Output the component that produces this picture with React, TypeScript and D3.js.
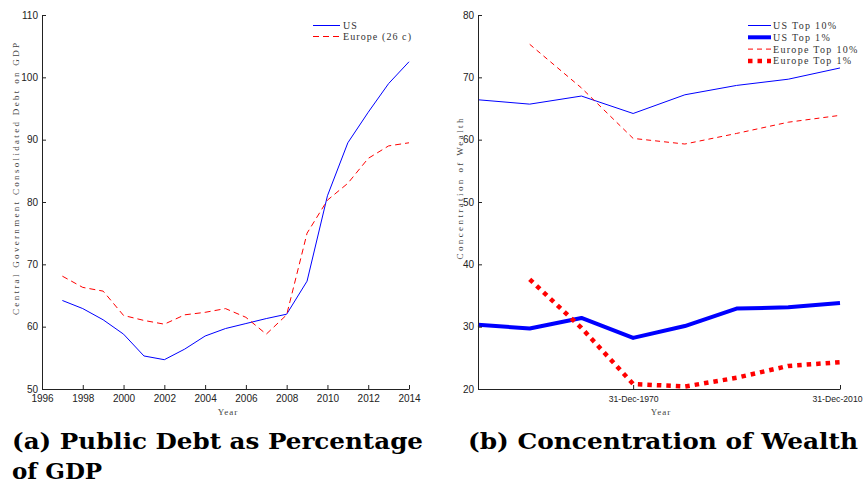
import { useRef, useEffect } from 'react';
import * as d3 from 'd3';

// (a) public debt, % of GDP
const debtYears = [1997, 1998, 1999, 2000, 2001, 2002, 2003, 2004, 2005, 2006, 2007, 2008, 2009, 2010, 2011, 2012, 2013, 2014];
const debtUS = [64.2, 62.9, 61.1, 58.8, 55.3, 54.7, 56.4, 58.5, 59.7, 60.5, 61.3, 62.0, 67.3, 81.0, 89.5, 94.4, 99.0, 102.5];
const debtEurope = [68.1, 66.3, 65.7, 61.8, 61.0, 60.4, 61.9, 62.3, 62.9, 61.5, 58.8, 61.9, 75.0, 80.3, 83.0, 87.0, 89.0, 89.5];
const debtXTicks = [1996, 1998, 2000, 2002, 2004, 2006, 2008, 2010, 2012, 2014];
const debtYTicks = [50, 60, 70, 80, 90, 100, 110];

// (b) concentration of wealth, one point per decade
const wealthYears = [1940, 1950, 1960, 1970, 1980, 1990, 2000, 2010];
const usTop10 = [66.4, 65.7, 67.0, 64.2, 67.2, 68.7, 69.7, 71.5];
const usTop1 = [30.3, 29.7, 31.4, 28.2, 30.1, 32.9, 33.1, 33.8];
const euTop10 = [null, 75.3, 68.3, 60.2, 59.3, 61.0, 62.8, 63.9];
const euTop1 = [null, 37.6, 29.8, 20.8, 20.4, 21.8, 23.7, 24.3];
const wealthXTicks = [1970, 2010];
const wealthYTicks = [20, 30, 40, 50, 60, 70, 80];

const sans = '"Liberation Sans", Arial, sans-serif';
const serif = '"Liberation Serif", "Times New Roman", serif';
const capFont = '"DejaVu Serif", serif';

const top = 15;
const bottom = 389;

const dec31 = (y: number) => new Date(y, 11, 31);

export default function App() {
    const axA = useRef<SVGGElement | null>(null);
    const ayA = useRef<SVGGElement | null>(null);
    const axB = useRef<SVGGElement | null>(null);
    const ayB = useRef<SVGGElement | null>(null);

    const xA = d3.scaleLinear().domain([1996, 2014]).range([42, 409]);
    const yA = d3.scaleLinear().domain([50, 110]).range([bottom, top]);
    const xB = d3.scaleTime().domain([dec31(1940), dec31(2010)]).range([478, 840]);
    const yB = d3.scaleLinear().domain([20, 80]).range([bottom, top]);

    useEffect(() => {
        const style = (g: d3.Selection<SVGGElement, unknown, null, undefined>) => {
            g.selectAll('text').attr('font-family', sans).attr('font-size', 10).attr('fill', '#222');
            g.selectAll('line').attr('stroke', '#222');
            g.select('.domain').attr('stroke', '#222');
        };

        d3.select(axA.current)
            .call(d3.axisBottom(xA).tickValues(debtXTicks).tickFormat(d3.format('d')).tickSizeInner(-4).tickSizeOuter(0).tickPadding(6))
            .call(style);
        d3.select(ayA.current)
            .call(d3.axisLeft(yA).tickValues(debtYTicks).tickSizeInner(-4).tickSizeOuter(0).tickPadding(4))
            .call(style);
        d3.select(axB.current)
            .call(d3.axisBottom(xB).tickValues(wealthXTicks.map(dec31)).tickFormat(d3.timeFormat('%d-%b-%Y') as any).tickSizeInner(-4).tickSizeOuter(0).tickPadding(6))
            .call(style);
        // date labels are squeezed a bit so the last one stays inside the page
        d3.select(axB.current).selectAll<SVGTextElement, Date>('text')
            .attr('font-size', 9.5)
            .attr('textLength', 50)
            .attr('lengthAdjust', 'spacingAndGlyphs')
            .attr('dx', (_, i, n) => (i === n.length - 1 ? -3 : 0));
        d3.select(ayB.current)
            .call(d3.axisLeft(yB).tickValues(wealthYTicks).tickSizeInner(-4).tickSizeOuter(0).tickPadding(4))
            .call(style);
    }, []);

    const lineA = (vals: number[]) =>
        d3.line<number>().x((_, i) => xA(debtYears[i])).y(d => yA(d))(vals) as string;

    const lineB = (vals: (number | null)[]) =>
        d3.line<number | null>()
            .defined(d => d !== null)
            .x((_, i) => xB(dec31(wealthYears[i])))
            .y(d => yB(d as number))(vals) as string;

    const wealthSeries = [
        { name: 'US Top 10%', vals: usTop10, color: '#0000ff', width: 1, dash: '' },
        { name: 'US Top 1%', vals: usTop1, color: '#0000ff', width: 4, dash: '' },
        { name: 'Europe Top 10%', vals: euTop10, color: '#ff0000', width: 1, dash: '5,4' },
        { name: 'Europe Top 1%', vals: euTop1, color: '#ff0000', width: 4.5, dash: '4.5,5' },
    ];

    return (
        <svg width={867} height={483} style={{ position: 'absolute', left: 0, top: 0, background: '#fff' }}>
            {/* panel (a) */}
            <path d={lineA(debtUS)} fill="none" stroke="#0000ff" strokeWidth={1} />
            <path d={lineA(debtEurope)} fill="none" stroke="#ff0000" strokeWidth={1} strokeDasharray="6,4" />
            <g ref={axA} transform={`translate(0,${bottom})`} />
            <g ref={ayA} transform={`translate(42,0)`} />
            <text x={228} y={415} textAnchor="middle" fontFamily={serif} fontSize={9} letterSpacing={1} fill="#444">Year</text>
            <text transform="translate(19,179) rotate(-90)" textAnchor="middle" fontFamily={serif} fontSize={9} fill="#444"
                textLength={272} lengthAdjust="spacing">Central Government Consolidated Debt on GDP</text>

            <line x1={313} x2={340} y1={25.5} y2={25.5} stroke="#0000ff" strokeWidth={1} />
            <text x={343} y={29} fontFamily={serif} fontSize={10} letterSpacing={1} fill="#333">US</text>
            <line x1={313} x2={340} y1={36.5} y2={36.5} stroke="#ff0000" strokeWidth={1} strokeDasharray="6,4" />
            <text x={343} y={40} fontFamily={serif} fontSize={10} textLength={68} lengthAdjust="spacing" fill="#333">Europe (26 c)</text>

            {/* panel (b) */}
            {wealthSeries.map(s => (
                <path key={s.name} d={lineB(s.vals)} fill="none" stroke={s.color} strokeWidth={s.width}
                    strokeDasharray={s.dash || undefined} strokeLinejoin="round" />
            ))}
            <g ref={axB} transform={`translate(0,${bottom})`} />
            <g ref={ayB} transform={`translate(478,0)`} />
            <text x={661} y={415} textAnchor="middle" fontFamily={serif} fontSize={9} letterSpacing={1} fill="#444">Year</text>
            <text transform="translate(463,189) rotate(-90)" textAnchor="middle" fontFamily={serif} fontSize={9} fill="#444"
                textLength={141} lengthAdjust="spacing">Concentration of Wealth</text>

            {wealthSeries.map((s, i) => (
                <g key={s.name} transform={`translate(0,${25.5 + i * 11.8})`}>
                    <line x1={748} x2={771} y1={0} y2={0} stroke={s.color} strokeWidth={s.width}
                        strokeDasharray={s.dash || undefined} />
                    <text x={773} y={3.5} fontFamily={serif} fontSize={10} letterSpacing={1.3} fill="#333">{s.name}</text>
                </g>
            ))}

            {/* captions */}
            <text x={12} y={449} fontFamily={capFont} fontWeight="bold" fontSize={23} textLength={411} lengthAdjust="spacingAndGlyphs">(a) Public Debt as Percentage</text>
            <text x={12} y={479} fontFamily={capFont} fontWeight="bold" fontSize={23}>of GDP</text>
            <text x={468} y={449} fontFamily={capFont} fontWeight="bold" fontSize={23} textLength={390} lengthAdjust="spacingAndGlyphs">(b)  Concentration of Wealth</text>
        </svg>
    );
}
